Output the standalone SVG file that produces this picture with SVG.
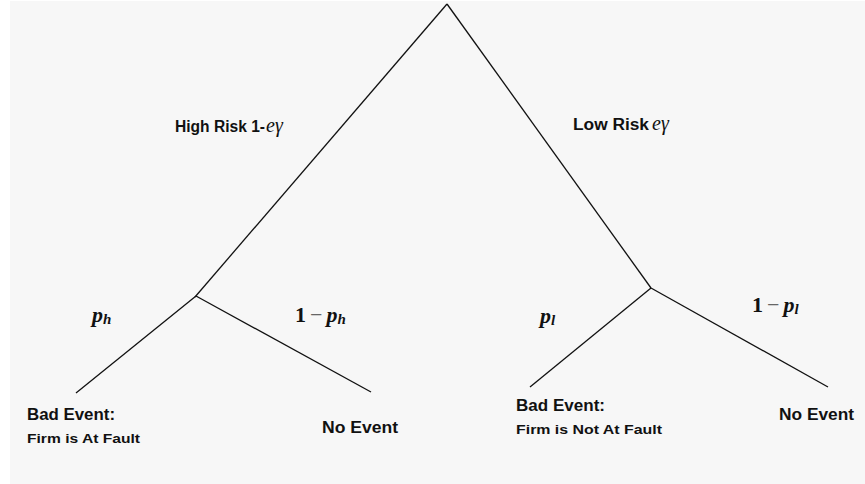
<svg xmlns="http://www.w3.org/2000/svg" width="865" height="484" viewBox="0 0 865 484">
<style>
.lbl{font-family:"Liberation Sans",Arial,sans-serif;font-weight:bold;fill:#111;}
.m{font-family:"Liberation Serif","Times New Roman",serif;fill:#111;}
.mi{font-style:italic;font-weight:bold;}
.edge{stroke:#111;stroke-width:1.3;fill:none;}
</style>
<rect x="0" y="0" width="865" height="484" fill="#ffffff"/>
<rect x="10" y="1" width="855" height="483" fill="#f7f7f7"/>
<g id="connectors">
<line class="edge" x1="447" y1="4" x2="195" y2="297"/>
<line class="edge" x1="447" y1="4" x2="651" y2="288"/>
<line class="edge" x1="196" y1="296" x2="76" y2="393"/>
<line class="edge" x1="196" y1="296" x2="371" y2="392"/>
<line class="edge" x1="651" y1="288" x2="530" y2="387"/>
<line class="edge" x1="651" y1="288" x2="828" y2="387"/>
</g>
<g id="branch-high">
<text class="lbl" x="175" y="132" font-size="16" textLength="90" lengthAdjust="spacingAndGlyphs">High Risk 1-</text>
<text class="m" x="266" y="132" font-size="20" font-style="italic">eγ</text>
</g>
<g id="branch-low">
<text class="lbl" x="573" y="130" font-size="16" textLength="76" lengthAdjust="spacingAndGlyphs">Low Risk</text>
<text class="m" x="652" y="130" font-size="20" font-style="italic">eγ</text>
</g>
<g id="prob-ph">
<text class="m" x="92" y="322" font-size="22"><tspan class="mi">p</tspan><tspan class="mi" font-size="15" dy="2">h</tspan></text>
</g>
<g id="prob-1-ph">
<text class="m" x="295" y="322" font-size="22"><tspan font-weight="bold">1</tspan><tspan dx="4" fill="#666">−</tspan><tspan dx="4" class="mi">p</tspan><tspan class="mi" font-size="15" dy="2">h</tspan></text>
</g>
<g id="prob-pl">
<text class="m" x="540" y="323" font-size="22"><tspan class="mi">p</tspan><tspan class="mi" font-size="15" dy="2">l</tspan></text>
</g>
<g id="prob-1-pl">
<text class="m" x="752" y="312" font-size="22"><tspan font-weight="bold">1</tspan><tspan dx="4" fill="#666">−</tspan><tspan dx="4" class="mi">p</tspan><tspan class="mi" font-size="15" dy="2">l</tspan></text>
</g>
<g id="leaf-bad-fault">
<text class="lbl" x="27" y="420" font-size="16" textLength="88" lengthAdjust="spacingAndGlyphs">Bad Event:</text>
<text class="lbl" x="27" y="443" font-size="13" textLength="113" lengthAdjust="spacingAndGlyphs">Firm is At Fault</text>
</g>
<g id="leaf-no-event-1">
<text class="lbl" x="322" y="433" font-size="16" textLength="76" lengthAdjust="spacingAndGlyphs">No Event</text>
</g>
<g id="leaf-bad-notfault">
<text class="lbl" x="516" y="411" font-size="16" textLength="89" lengthAdjust="spacingAndGlyphs">Bad Event:</text>
<text class="lbl" x="516" y="434" font-size="13" textLength="146" lengthAdjust="spacingAndGlyphs">Firm is Not At Fault</text>
</g>
<g id="leaf-no-event-2">
<text class="lbl" x="779" y="420" font-size="16" textLength="75" lengthAdjust="spacingAndGlyphs">No Event</text>
</g>
</svg>
